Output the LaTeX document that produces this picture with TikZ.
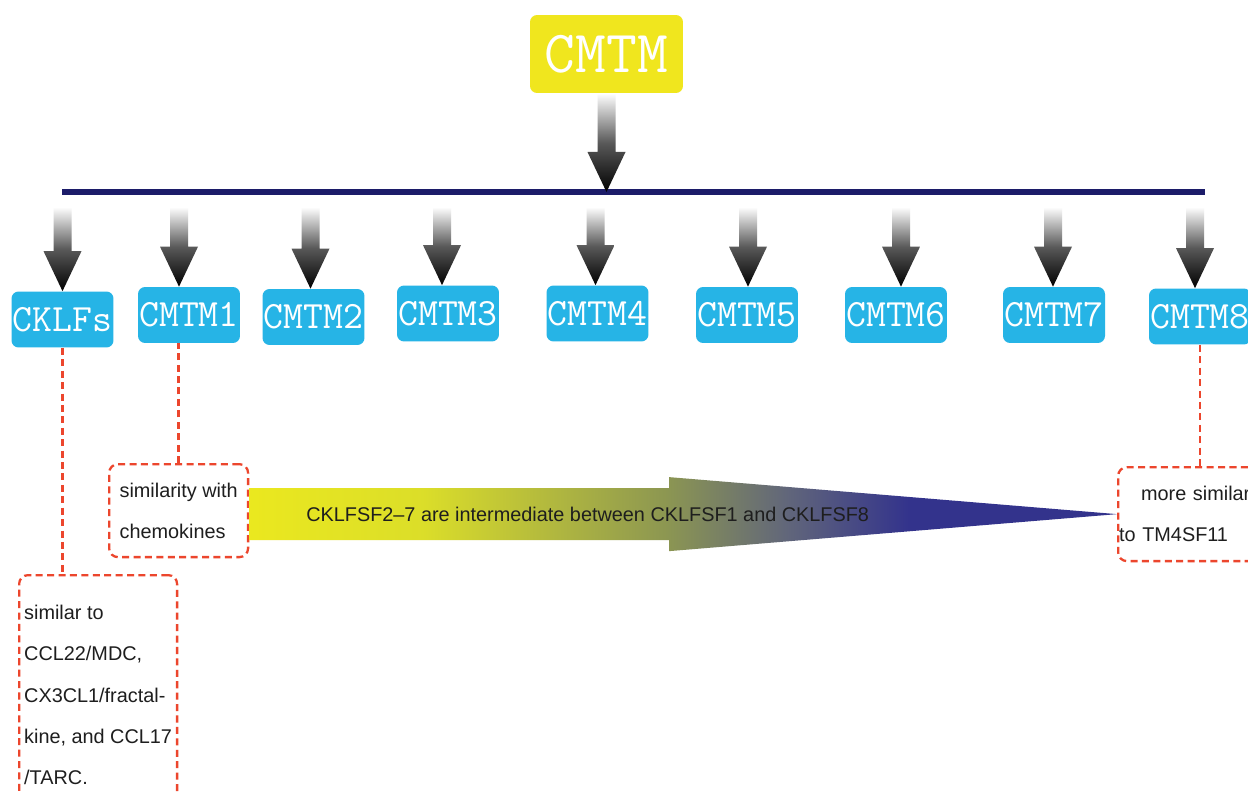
\documentclass[tikz,border=0pt]{standalone}
\usepackage{fontspec}
\setsansfont{Liberation Sans}
\usetikzlibrary{calc}

\definecolor{cmtmyellow}{RGB}{240,230,30}
\definecolor{cmtmblue}{RGB}{38,180,230}
\definecolor{barnavy}{RGB}{28,28,105}
\definecolor{dashred}{RGB}{236,70,45}
\definecolor{textdark}{RGB}{30,30,30}

% yellow -> olive -> navy along the big arrow
\pgfdeclarehorizontalshading{yellowtonavy}{100bp}{rgb(0bp)=(.92,.91,.12); rgb(25bp)=(.92,.91,.12); rgb(35bp)=(.86,.87,.16); rgb(49bp)=(.55,.59,.32); rgb(56bp)=(.38,.40,.48); rgb(63bp)=(.20,.20,.55); rgb(100bp)=(.20,.20,.55)}

% shaded block arrow pointing down from #1 to #2
\newcommand{\fatarrow}[2]{%
  \shade[top color=white, bottom color=black, middle color=black!65]
    ($(#1)+(-9,0)$) -- ($(#1)+(9,0)$) -- ($(#2)+(9,-40)$) -- ($(#2)+(19,-40)$)
    -- (#2) -- ($(#2)+(-19,-40)$) -- ($(#2)+(-9,-40)$) -- cycle;}

\begin{document}
\begin{tikzpicture}[x=0.02cm,y=-0.02cm,
  topbox/.style={fill=cmtmyellow, rounded corners=4pt, text=white,
    font=\ttfamily\fontsize{34}{34}\selectfont, minimum width=3.06cm,
    minimum height=1.56cm, inner sep=0pt},
  subbox/.style={fill=cmtmblue, rounded corners=4pt, text=white,
    font=\ttfamily\fontsize{22}{22}\selectfont, minimum width=2.04cm,
    minimum height=1.12cm, inner sep=0pt},
  notebox/.style={draw=dashred, line width=1.3pt, dash pattern=on 4pt off 2.5pt,
    rounded corners=5pt, font=\sffamily\fontsize{11.3}{23.5}\selectfont,
    align=left, text=textdark, anchor=north west, inner xsep=0pt},
  dashline/.style={draw=dashred, line width=1.3pt, dash pattern=on 4pt off 2.5pt},
  barline/.style={draw=barnavy, line width=3pt}]

  \fill[white] (0,0) rectangle (1248,794);
  \useasboundingbox (0,0) rectangle (1248,794);

  \node[topbox] (cmtm) at (606.5,54) {CMTM};

  % members
  \node[subbox] (cklf) at (62.5,319.5) {CKLFs};
  \node[subbox] (cm1) at (189,315) {CMTM1};
  \node[subbox] (cm2) at (313.5,317) {CMTM2};
  \node[subbox] (cm3) at (448,313.5) {CMTM3};
  \node[subbox] (cm4) at (597.5,313.5) {CMTM4};
  \node[subbox] (cm5) at (747,315) {CMTM5};
  \node[subbox] (cm6) at (896,315) {CMTM6};
  \node[subbox] (cm7) at (1054,315) {CMTM7};
  \node[subbox] (cm8) at (1200,316.5) {CMTM8};

  % bar and arrows
  \coordinate (barL) at (62,192);
  \coordinate (barR) at (1205,192);
  \coordinate (arrtop) at (0,207);
  \draw[barline] (barL) -- (barR);
  \fatarrow{cmtm.south}{cmtm.south |- barL}
  \foreach \b/\dx in {cklf/0,cm1/-10,cm2/-3,cm3/-6,cm4/-2,cm5/1,cm6/5,cm7/-1,cm8/-5}{
    \coordinate (tipat) at ($(\b.north)+(\dx,0)$);
    \fatarrow{tipat |- arrtop}{tipat}
  }

  % notes
  \node[notebox, minimum width=2.78cm, minimum height=1.86cm]
    (simbox) at (108,463) {similarity with\\chemokines};
  \node[notebox, minimum width=3.16cm, minimum height=4.8cm]
    (clbox) at (18,574) {similar to\\CCL22/MDC,\\CX3CL1/fractal-\\kine, and CCL17\\/TARC.};
  \node[notebox, text width=2.96cm, inner xsep=0.02cm, minimum height=1.88cm]
    (tmbox) at (1117,466) {\hspace*{0.44cm}more similar\\to TM4SF11};

  \draw[dashline] (cklf.south) -- (cklf.south |- clbox.north);
  \draw[dashline] (simbox.north) -- (simbox.north |- cm1.south);
  \draw[dashline] (cm8.south) -- (cm8.south |- tmbox.north);

  % big gradient arrow
  \coordinate (tip) at (tmbox.west);
  \coordinate (tail) at (simbox.east |- tip);
  \coordinate (neck) at ($(tail)!0.484!(tip)$);
  \shade[shading=yellowtonavy]
    ($(tail)+(0,-26)$) -- ($(neck)+(0,-26)$) -- ($(neck)+(0,-37)$) -- (tip)
    -- ($(neck)+(0,37)$) -- ($(neck)+(0,26)$) -- ($(tail)+(0,26)$) -- cycle;
  \node[font=\sffamily\fontsize{11.3}{14}\selectfont, text=textdark]
    (midlabel) at ($(tail)!0.39!(tip)$) {CKLFSF2–7 are intermediate between CKLFSF1 and CKLFSF8};
\end{tikzpicture}
\end{document}
